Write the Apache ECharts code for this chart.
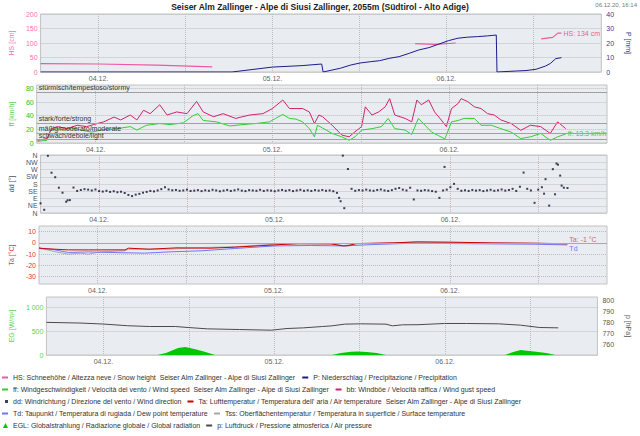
<!DOCTYPE html>
<html><head><meta charset="utf-8">
<script src="https://cdn.jsdelivr.net/npm/echarts@6/dist/echarts.min.js"></script>
<style>html,body{margin:0;padding:0;background:#fff}#c{width:640px;height:436px}</style>
</head><body><div id="c"></div>
<script>
const titleText = 'Seiser Alm Zallinger - Alpe di Siusi Zallinger, 2055m (Südtirol - Alto Adige)';
const stampText = '06.12.20, 16:14';
const dayTicks = [0, 24, 48];
const dayLabels = ['04.12.', '05.12.', '06.12.'];
const halfDayTicks = [0, 12, 24, 36, 48, 60];
const xMin = -8, xMax = 69.4;

// Panel 1: snow height (cm) and precipitation (mm); hours relative to 04.12. 00:00
const hsHours  = [-8, 0, 8, 15.7, 16, 43.7, 46.5, 49.3, 50, 61.1, 62.7, 63.4, 63.9];
const hsValues = [29, 27.5, 24, 18, null, 98, 95, 100, null, 114, 119.5, 134, 134];
const pHours  = [-8, 18.4, 24, 28.1, 30.8, 31.0, 32.1, 33.4, 34.8, 36.1, 37.5, 38.8, 40.2, 41.5, 42.9, 44.2, 45.6, 46.9, 48.3, 49.6, 50.9, 52.3, 53.7, 54.9, 55.0, 57.7, 59.0, 60.4, 61.7, 62.4, 63.1, 63.9];
const pValues = [0, 0, 3.4, 4.4, 5.5, 0, 1.2, 2.6, 4.8, 6.2, 7.1, 7.8, 9.5, 10.6, 12.9, 15.2, 16.8, 19.1, 21.6, 23.3, 24.0, 24.4, 24.9, 25.5, 0, 0.7, 1.0, 1.9, 4.1, 6.0, 9.2, 9.9];

// Panel 2: wind speed and gusts (km/h)
const ffHours  = [-7.9, -6.6, -6.1, -5.2, -4.2, -3.3, -2, -0.6, 1.1, 2.9, 4.7, 5.6, 6.9, 8.7, 10.1, 11.9, 13.2, 13.9, 14.6, 16.4, 18.2, 20, 21.7, 23.6, 24.4, 25.4, 26.3, 27.2, 28.1, 29, 29.7, 30.1, 30.8, 32.1, 33.4, 34.4, 35.2, 36.1, 37.5, 38.8, 39.7, 40.6, 42, 42.9, 43.8, 44.7, 45.6, 46.5, 47.4, 48.3, 49.2, 50, 51.4, 52.3, 53.7, 55, 56.4, 57.7, 59, 60.4, 61.7, 62.7, 63.8];
const ffValues = [2.5, 4, 19, 21, 19, 22, 19, 16, 19.6, 21, 24, 19, 26, 28.5, 27, 29.5, 40, 43, 33, 31, 25, 27, 28.5, 31, 36, 41.8, 36, 35, 31, 21, 9, 26, 22, 14, 9, 4, 9, 19, 21, 24, 36, 21, 19, 12.5, 36, 26, 16, 11, 6, 31, 33, 36, 36, 26, 26, 21, 16, 6.5, 9, 14, 4, 9, 13.3];
const bbHours  = [-7.9, -6.6, -6, -5.2, -3.9, -2.5, -1.2, 0.2, 1.1, 2.5, 3.4, 4.7, 5.6, 6.5, 7.4, 8.7, 9.7, 11, 12.4, 13.7, 14.6, 16, 17.3, 19, 20.9, 22.7, 24, 25.4, 26.3, 27.2, 28.1, 29, 29.7, 30.3, 30.8, 32.1, 33.4, 34.4, 35.2, 36.1, 36.6, 37.5, 38.4, 39.3, 39.9, 40.6, 42, 42.9, 43.6, 44.2, 45.2, 46, 46.9, 47.6, 48.3, 49.2, 49.6, 50.5, 51.4, 52.3, 53.2, 54.1, 55, 56.4, 57.7, 59, 60.4, 61.7, 62.7, 63.8];
const bbValues = [4, 6.5, 21, 24, 21, 26, 24, 28.5, 31, 38, 33.8, 41, 33.8, 48, 43, 56, 41, 45.5, 43, 61, 45.5, 38.5, 43, 36, 41, 43, 50.5, 63, 50.5, 50.5, 50.5, 45.5, 28.5, 41, 38.5, 26, 11.7, 9, 16.5, 24, 53, 41, 45.5, 53, 65, 41, 36, 31, 63, 56, 63, 45.5, 33.8, 24, 50.5, 58, 65, 60.7, 53, 50.5, 43, 41, 33.8, 28.5, 18.6, 26, 24, 14, 31, 21];
const ffTicks = [0, 20, 40, 60, 80];
const windBandValues = [5, 15, 29, 75];
const windBandLabels = ['schwach/debole/light', 'mäßig/moderato/moderate', 'stark/forte/strong', 'stürmisch/tempestoso/stormy'];

// Panel 3: wind direction (degrees), one reading every half hour from -8 h, plus scattered extra readings
const ddStart = -8, ddStep = 0.5;
const ddValues = [60, 20, 355, 250, 222, 157, 126, 70, 80, 158, 137, 143, 148, 145, 140, 146, 136, 133, 138, 131, 135, 129, 132, 124, 112, 105, 114, 119, 126, 131, 137, 134, 140, 148, 160, 146, 141, 143, 138, 140, 145, 137, 139, 142, 136, 141, 138, 144, 140, 135, 139, 143, 137, 141, 146, 139, 136, 142, 140, 138, 144, 137, 141, 139, 135, 140, 143, 138, 142, 136, 140, 144, 138, 141, 137, 142, 139, 143, 138, 140, 135, 125, 73, 30, 273, 150, 138, 142, 140, 145, 140, 138, 143, 146, 140, 137, 142, 150, 155, 145, 140, 157, 84, 140, 138, 142, 140, 136, 132, 94, 140, 145, 160, 181, 150, 138, 141, 137, 143, 139, 142, 136, 140, 144, 138, 141, 146, 139, 143, 150, 137, 163, 251, 150, 140, 63, 145, 160, 210, 46, 272, 307, 232, 157, 155];
const ddExtraHours  = [-4.3, 32.8, 33.3, 47.2, 60.8, 62.3, 62.7, 63.2];
const ddExtraValues = [79, 94, 356, 286, 120, 116, 300, 170];
const dirLabels = ['N', 'NE', 'E', 'SE', 'S', 'SW', 'W', 'NW', 'N'];

// Panel 4: temperatures (°C)
const taHours  = [-8, -7.7, -4, -1.3, 3.7, 4.2, 7, 10.8, 15.3, 18.6, 24.1, 27.4, 31.8, 33, 33.5, 34.2, 35.2, 40.2, 43.5, 48.4, 53.9, 59.5, 64];
const taValues = [-4.5, -5, -6.2, -6.2, -6.2, -4.7, -5.6, -4.4, -4.7, -3.8, -1.8, -0.6, -0.9, -2.2, -2.7, -2.4, -0.6, 0, 0.9, 0.6, 0, -0.3, -0.8];
const tdHours  = [-8, -6.3, -4, -1.3, 1.5, 6.4, 9.7, 14.2, 18.6, 24.1, 29, 33.5, 37.4, 42.9, 48.4, 53.9, 59.5, 64];
const tdValues = [-4.5, -5.6, -8.5, -8, -8.5, -9.1, -8, -7, -5, -2.7, -2.3, -2.7, -1.5, -0.3, -0.6, -0.9, -1.2, -1.8];
const tssHours  = [-8, -5.7, -4, -2.4, -1.3, 0.3, 3.7, 4.2, 9.7, 14.2, 18.6, 24.1, 31.8, 33.5, 35.2, 43.5, 53.9, 64];
const tssValues = [-4.5, -8, -10, -9.1, -10, -8, -7, -5.6, -5.6, -4.1, -3.5, -1.2, -0.8, -2.5, -0.8, 0.7, 0, -0.6];
const taTicks = [-30, -20, -10, 0, 10];

// Panel 5: global radiation (W/m²) and air pressure (hPa)
const egHours  = [7.6, 8.8, 9.9, 10.5, 11.5, 12.3, 13.2, 14.1, 15, 15.7, 16, 32.1, 33.4, 34.8, 35.7, 37, 38.4, 39.7, 40, 56.4, 57.7, 58.6, 59.5, 60.8, 62.2, 63.5];
const egValues = [0, 42, 110, 145, 166, 140, 110, 75, 30, 0, null, 0, 42, 70, 75, 62, 42, 0, null, 0, 70, 104, 90, 70, 42, 0];
const prHours  = [-8, -3.3, 0, 3.4, 6.5, 10.1, 11.9, 14.6, 19.1, 23.6, 25.8, 28.1, 30.8, 32.1, 33.9, 36.1, 39.7, 40.6, 42, 44.2, 47.9, 51, 55.5, 58.6, 61.3, 63.9];
const prValues = [780, 779.4, 778.5, 777, 776.3, 776.3, 775.4, 774.2, 773.6, 773, 774.5, 775.1, 776.3, 776.9, 778.4, 778.7, 778.4, 776.9, 777.8, 777.9, 779, 779, 778.7, 777.5, 775.4, 775.1];
const egTicks = [0, 500, 1000];
const prTicks = [760, 770, 780, 790, 800];

const names = {
  hs: 'HS: Schneehöhe / Altezza neve / Snow height  Seiser Alm Zallinger - Alpe di Siusi Zallinger',
  p: 'P: Niederschlag / Precipitazione / Precipitation',
  ff: 'ff: Windgeschwindigkeit / Velocità del vento / Wind speed  Seiser Alm Zallinger - Alpe di Siusi Zallinger',
  bb: 'bb: Windböe / Velocità raffica / Wind gust speed',
  dd: 'dd: Windrichtung / Direzione del vento / Wind direction',
  ta: "Ta: Lufttemperatur / Temperatura dell' aria / Air temperature  Seiser Alm Zallinger - Alpe di Siusi Zallinger",
  td: 'Td: Taupunkt / Temperatura di rugiada / Dew point temperature',
  tss: 'Tss: Oberflächentemperatur / Temperatura in superficie / Surface temperature',
  eg: 'EGL: Globalstrahlung / Radiazione globale / Global radiation',
  pr: 'p: Luftdruck / Pressione atmosferica / Air pressure'
};

const FONT = '"Liberation Sans", Arial, sans-serif';
const LEG_FS = 7;
const zip = (xs, ys) => xs.map((x, i) => [x, ys[i]]);
const C = {hs:'#f0589f', p:'#1c1c8a', ff:'#33cc33', bb:'#d0226f', dd:'#101030', ta:'#cc0000', td:'#7373ff', tss:'#a8a8a8', eg:'#00c800', pr:'#4a4a4a'};
const FF_LABEL = '#55d455';

const tops = [14, 85, 155, 226, 297];
const grids = tops.map(t => ({left:32, right:33, top:t, height:58, show:true, backgroundColor:'#e9edf1', borderColor:'#c2c2c2', borderWidth:1}));
const xAxes = tops.map((t, i) => ({
  gridIndex:i, type:'value', min:xMin, max:xMax,
  axisLine:{show:false}, axisTick:{show:false, customValues:halfDayTicks},
  axisLabel:{customValues:dayTicks, formatter:v => dayLabels[dayTicks.indexOf(v)], fontSize:7, color:'#666', margin:3, fontFamily:FONT},
  splitLine:{show:true, lineStyle:{type:'dotted', color:'#bcbcbc', width:1}}
}));
const gridLine = {show:true, lineStyle:{type:'dotted', color:'#bcbcbc', width:1}};
function yAx(o){
  const color = o.color;
  return Object.assign({
    type:'value', axisLine:{show:false}, axisTick:{show:false},
    nameLocation:'middle', nameTextStyle:{color, fontSize:7, fontFamily:FONT},
    splitLine: o.position === 'right' ? {show:false} : gridLine
  }, o, {axisLabel:Object.assign({show:true, color, fontSize:7, margin:3, fontFamily:FONT}, o.axisLabel || {})});
}
const yAxes = [
  yAx({gridIndex:0, min:0, max:200, interval:50, name:'HS [cm]', nameGap:17, color:'#ff6fae'}),
  yAx({gridIndex:0, position:'right', min:0, max:40, interval:10, name:'P [mm]', nameGap:15, nameRotate:-90, color:'#3a3a8c', axisLabel:{margin:5}}),
  yAx({gridIndex:1, position:'left', min:0, max:85, name:'ff [km/h]', nameGap:17, color:FF_LABEL,
       axisTick:{show:false, customValues:ffTicks}, axisLabel:{customValues:ffTicks}}),
  yAx({gridIndex:2, min:0, max:360, interval:45, name:'dd [°]', nameGap:17, color:'#4a5668', axisLabel:{formatter:v => dirLabels[Math.round(v/45)]}}),
  yAx({gridIndex:3, min:-36.5, max:15, name:'Ta [°C]', nameGap:17, color:'#dd3a3a', axisTick:{show:false, customValues:taTicks}, axisLabel:{customValues:taTicks}}),
  yAx({gridIndex:4, min:0, max:1215, name:'EG [W/m²]', nameGap:20, color:'#55d455', axisTick:{show:false, customValues:egTicks}, axisLabel:{customValues:egTicks, formatter:v => v >= 1000 ? String(v).replace(/(\d)(\d{3})$/, '$1 $2') : String(v)}}),
  yAx({gridIndex:4, position:'right', min:750.8, max:802.7, name:'p [hPa]', nameGap:17, nameRotate:-90, color:'#555', axisTick:{show:false, customValues:prTicks}, axisLabel:{customValues:prTicks, margin:5}})
];

const lbl = (color, extra) => Object.assign({show:true, color, fontSize:7, fontFamily:FONT, distance:2}, extra || {});
const line = (o) => Object.assign({type:'line', showSymbol:false, symbol:'none', silent:true, animation:false, connectNulls:false}, o);

const series = [
  line({name:names.hs, xAxisIndex:0, yAxisIndex:0, data:zip(hsHours, hsValues), color:C.hs, lineStyle:{color:C.hs, width:1.2},
        endLabel:lbl(C.hs, {formatter:'HS: ' + hsValues[hsValues.length-1] + ' cm'})}),
  line({name:names.p, xAxisIndex:0, yAxisIndex:1, data:zip(pHours, pValues), color:C.p, lineStyle:{color:C.p, width:1}}),
  line({name:names.ff, xAxisIndex:1, yAxisIndex:2, data:zip(ffHours, ffValues), color:C.ff, lineStyle:{color:C.ff, width:1},
        endLabel:lbl('#44cc44', {formatter:'ff: ' + ffValues[ffValues.length-1] + ' km/h'}),
        markLine:{silent:true, symbol:'none', animation:false, lineStyle:{color:'#a0a0a0', type:'solid', width:1},
          data:windBandValues.map((v, i) => ({yAxis:v, label:{formatter:windBandLabels[i]}})),
          label:{show:true, position:'insideStartTop', color:'#333', fontSize:7, fontFamily:FONT, distance:[2,1]}}}),
  line({name:names.bb, xAxisIndex:1, yAxisIndex:2, data:zip(bbHours, bbValues), color:C.bb, lineStyle:{color:C.bb, width:1}}),
  // tick values of the wind axis, written just left of the plot at each tick value
  {type:'scatter', name:'ffTicks', xAxisIndex:1, yAxisIndex:2, silent:true, animation:false, symbolSize:0, clip:false,
   data:ffTicks.map(v => [xMin, v]),
   label:{show:true, position:'left', distance:3, formatter:p => String(p.value[1]), color:FF_LABEL, fontSize:7, fontFamily:FONT},
   labelLayout:{hideOverlap:false}},
  {type:'scatter', name:names.dd, xAxisIndex:2, yAxisIndex:3, symbol:'rect', symbolSize:2, silent:true, animation:false, color:C.dd,
   data:ddValues.map((v, i) => [ddStart + i*ddStep, v]).concat(zip(ddExtraHours, ddExtraValues))},
  line({name:names.tss, xAxisIndex:3, yAxisIndex:4, data:zip(tssHours, tssValues), color:C.tss, lineStyle:{color:C.tss, width:1}}),
  line({name:names.td, xAxisIndex:3, yAxisIndex:4, data:zip(tdHours, tdValues), color:C.td, lineStyle:{color:C.td, width:1},
        endLabel:lbl(C.td, {formatter:'Td', offset:[0,4]})}),
  line({name:names.ta, xAxisIndex:3, yAxisIndex:4, data:zip(taHours, taValues), color:C.ta, lineStyle:{color:C.ta, width:1},
        endLabel:lbl('#c46a6a', {formatter:'Ta: ' + Math.round(taValues[taValues.length-1]) + ' °C', offset:[0,-4]}),
        markLine:{silent:true, symbol:'none', animation:false, label:{show:false}, lineStyle:{color:'#a8a8a8', type:'solid', width:1}, data:[{yAxis:0}]}}),
  line({name:names.eg, xAxisIndex:4, yAxisIndex:5, data:zip(egHours, egValues), color:C.eg, lineStyle:{width:0, color:C.eg}, areaStyle:{color:C.eg, opacity:1}}),
  line({name:names.pr, xAxisIndex:4, yAxisIndex:6, data:zip(prHours, prValues), color:C.pr, lineStyle:{color:C.pr, width:1}})
];

// legend: two items per row; second item placed after measured width of the first text
const measure = (() => {
  const ctx = document.createElement('canvas').getContext('2d');
  ctx.font = LEG_FS + 'px ' + FONT;
  return t => ctx.measureText(t).width;
})();
const legendRows = [
  [{n:names.hs, icon:'rect', w:6, h:2}, {n:names.p, icon:'rect', w:6, h:2}],
  [{n:names.ff, icon:'rect', w:6, h:2}, {n:names.bb, icon:'rect', w:6, h:2}],
  [{n:names.dd, icon:'rect', w:3, h:3}, {n:names.ta, icon:'rect', w:6, h:2}],
  [{n:names.td, icon:'rect', w:6, h:2}, {n:names.tss, icon:'rect', w:6, h:2}],
  [{n:names.eg, icon:'triangle', w:5, h:5}, {n:names.pr, icon:'rect', w:6, h:2}]
];
const rowTop = [374, 386, 398, 410, 422];
const legends = [];
legendRows.forEach((row, r) => {
  const textStart = 13;
  const secondText = textStart + measure(row[0].n) + 6 + row[1].w + 5;
  row.forEach((it, k) => {
    const left = k === 0 ? textStart - it.w - 5 : secondText - it.w - 5;
    legends.push({left, top:rowTop[r], padding:0, itemGap:0, selectedMode:false,
      itemWidth:it.w, itemHeight:it.h, icon:it.icon, data:[it.n],
      textStyle:{fontSize:LEG_FS, color:'#333', fontFamily:FONT}});
  });
});

const chart = echarts.init(document.getElementById('c'), null, {renderer:'svg'});
chart.setOption({
  animation:false,
  backgroundColor:'#ffffff',
  title:[
    {text:titleText, left:'center', top:2, padding:0, textStyle:{fontSize:8.5, fontWeight:'bold', color:'#222', fontFamily:FONT}},
    {text:stampText, right:3, top:2, padding:0, textStyle:{fontSize:6, fontWeight:'normal', color:'#777', fontFamily:FONT}}
  ],
  tooltip:{show:false},
  legend:legends,
  grid:grids, xAxis:xAxes, yAxis:yAxes, series
});
</script></body></html>
